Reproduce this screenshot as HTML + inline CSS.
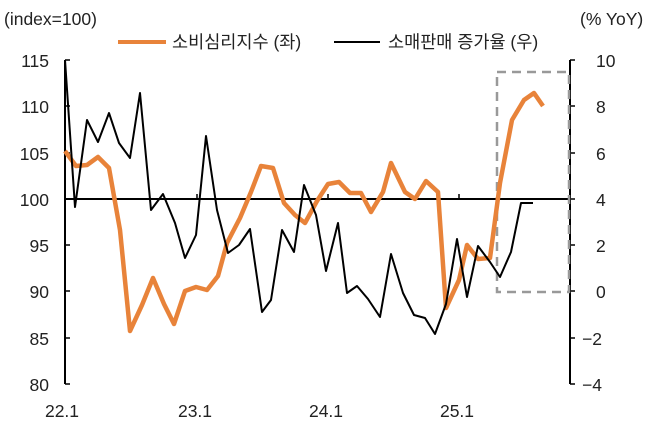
<!DOCTYPE html>
<html><head><meta charset="utf-8"><style>
body{margin:0;background:#fff}
text{font-family:"Liberation Sans","Noto Sans CJK KR",sans-serif;font-size:17.5px;fill:#222}
</style></head><body>
<svg width="653" height="428" xmlns="http://www.w3.org/2000/svg">
<text x="4" y="25">(index=100)</text>
<text x="580" y="25">(% YoY)</text>
<line x1="118" y1="42" x2="166" y2="42" stroke="#E8833A" stroke-width="4"/>
<text x="172" y="48">소비심리지수 (좌)</text>
<line x1="334" y1="42" x2="380" y2="42" stroke="#000" stroke-width="2"/>
<text x="388" y="48">소매판매 증가율 (우)</text>
<g stroke="#000" stroke-width="2">
<line x1="65" y1="60" x2="65" y2="384"/>
<line x1="570" y1="60" x2="570" y2="384"/>
<line x1="65" y1="199" x2="570" y2="199"/>
</g>
<g stroke="#000" stroke-width="1.5">
<line x1="65" y1="60" x2="70" y2="60"/><line x1="65" y1="106" x2="70" y2="106"/><line x1="65" y1="153" x2="70" y2="153"/><line x1="65" y1="245" x2="70" y2="245"/><line x1="65" y1="291" x2="70" y2="291"/><line x1="65" y1="338" x2="70" y2="338"/><line x1="65" y1="384" x2="70" y2="384"/>
<line x1="570" y1="60" x2="575" y2="60"/><line x1="570" y1="106" x2="575" y2="106"/><line x1="570" y1="153" x2="575" y2="153"/><line x1="570" y1="199" x2="575" y2="199"/><line x1="570" y1="245" x2="575" y2="245"/><line x1="570" y1="291" x2="575" y2="291"/><line x1="570" y1="338" x2="575" y2="338"/><line x1="570" y1="384" x2="575" y2="384"/>
<line x1="197" y1="194" x2="197" y2="199"/><line x1="328" y1="194" x2="328" y2="199"/><line x1="459" y1="194" x2="459" y2="199"/>
</g>
<g text-anchor="end">
<text x="49" y="67">115</text><text x="49" y="113">110</text><text x="49" y="160">105</text><text x="49" y="206">100</text><text x="49" y="252">95</text><text x="49" y="298">90</text><text x="49" y="345">85</text><text x="49" y="391">80</text>
</g>
<g>
<text x="596" y="67">10</text><text x="596" y="113">8</text><text x="596" y="160">6</text><text x="596" y="206">4</text><text x="596" y="252">2</text><text x="596" y="298">0</text><text x="582" y="345">−2</text><text x="582" y="391">−4</text>
</g>
<g text-anchor="middle">
<text x="62" y="417">22.1</text><text x="195" y="417">23.1</text><text x="326" y="417">24.1</text><text x="457" y="417">25.1</text>
</g>
<rect x="497" y="72" width="72" height="220" fill="none" stroke="#999" stroke-width="2.5" stroke-dasharray="9,6"/>
<polyline fill="none" stroke="#E8833A" stroke-width="4.5" stroke-linejoin="round" points="65,151 76,166 87,165 98,157 109,168 120,230 130,331 142,305 153,278 164,304 174,324 185,291 196,287 207,290 218,276 227,243 240,218 251,192 261,166 273,168 284,203 295,215 305,223 317,201 328,184 339,182 350,193 361,193 371,212 383,192 391,163 405,192 415,199 426,181 438,192 446,308 459,280 467,245 478,259 490,258 500,183 512,120 524,100 534,93 543,106"/>
<polyline fill="none" stroke="#000" stroke-width="2" stroke-linejoin="round" points="65,60 75,207 87,120 98,142 109,113 119,143 130,158 140,93 151,210 163,194 175,223 185,258 196,235 206,136 217,210 228,253 239,245 250,229 262,312 271,300 282,230 294,252 304,185 316,215 326,271 338,223 347,293 357,286 368,299 380,317 391,254 403,293 414,315 425,318 435,334 446,304 457,239 467,297 478,246 490,262 500,277 511,252 521,203 533,203"/>
</svg>
</body></html>
